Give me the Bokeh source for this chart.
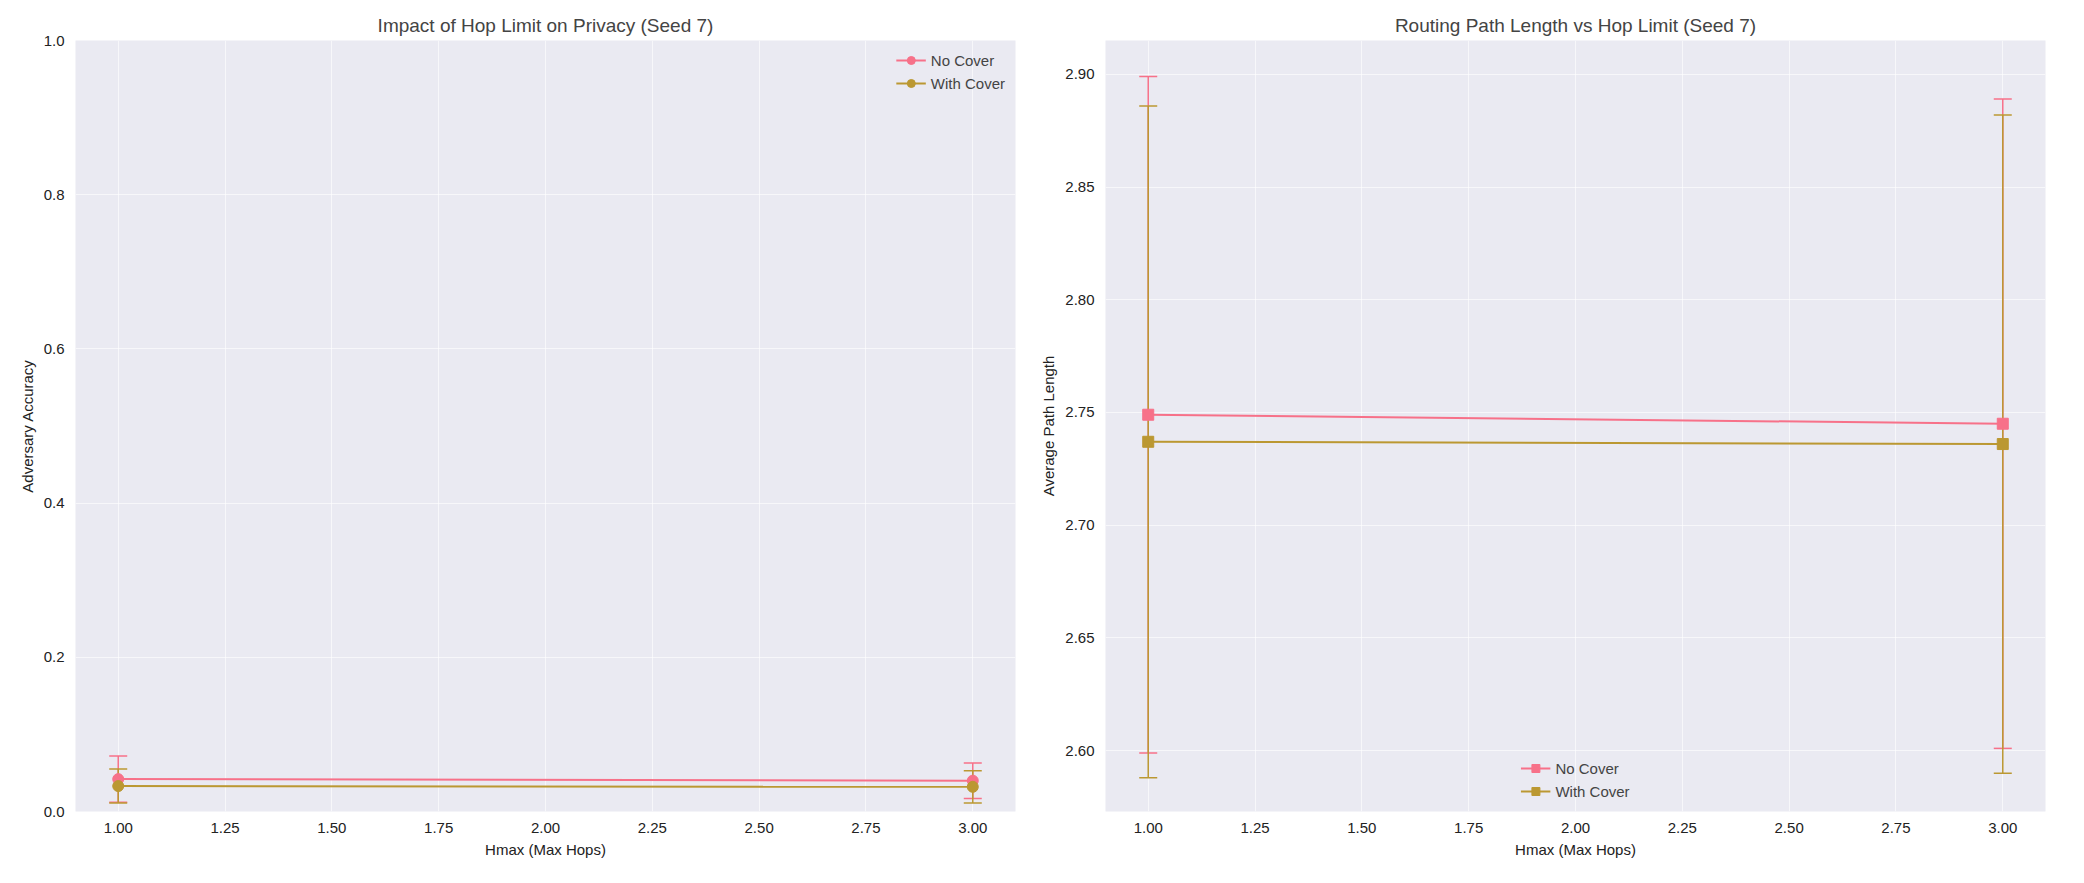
from bokeh.plotting import figure
from bokeh.layouts import row
from bokeh.models import (Whisker, ColumnDataSource, Range1d, FixedTicker, TeeHead,
                          PrintfTickFormatter)
from bokeh.embed import file_html
from bokeh.resources import INLINE

hmax = [1.0, 3.0]
acc_no_cover = [0.042, 0.040]
acc_no_cover_err = [0.030, 0.023]
acc_cover = [0.033, 0.032]
acc_cover_err = [0.022, 0.021]
len_no_cover = [2.749, 2.745]
len_no_cover_err = [0.150, 0.144]
len_cover = [2.737, 2.736]
len_cover_err = [0.149, 0.146]

PINK = "#f77189"
GOLD = "#bb9832"
FONT = "Liberation Sans"


def make_fig(title, ylabel, yr, yticks, yfmt):
    p = figure(width=1030, height=860, title=title, output_backend="svg",
               toolbar_location=None, x_range=Range1d(0.9, 3.1), y_range=yr,
               x_axis_label="Hmax (Max Hops)", y_axis_label=ylabel,
               background_fill_color="#eaeaf2", border_fill_color="white",
               min_border_left=75, min_border_right=15, min_border_top=40)
    p.outline_line_color = None
    p.title.align = "center"
    p.title.text_font = FONT
    p.title.text_font_size = "19px"
    p.title.text_font_style = "normal"
    p.xaxis.ticker = FixedTicker(ticks=[1 + 0.25 * i for i in range(9)])
    p.xaxis.formatter = PrintfTickFormatter(format="%.2f")
    p.yaxis.ticker = FixedTicker(ticks=yticks)
    p.yaxis.formatter = PrintfTickFormatter(format=yfmt)
    for ax in [p.xaxis, p.yaxis]:
        ax.axis_line_color = None
        ax.major_tick_line_color = None
        ax.minor_tick_line_color = None
        ax.major_label_text_font = FONT
        ax.major_label_text_font_size = "15px"
        ax.major_label_text_color = "#222222"
        ax.axis_label_text_font = FONT
        ax.axis_label_text_font_size = "15px"
        ax.axis_label_text_font_style = "normal"
        ax.axis_label_text_color = "#222222"
    p.grid.grid_line_color = "white"
    p.grid.grid_line_alpha = 0.6
    p.grid.grid_line_width = 1
    return p


def add_series(p, x, y, err, color, label, marker):
    src = ColumnDataSource(dict(x=x, y=y, lo=[a - e for a, e in zip(y, err)],
                                hi=[a + e for a, e in zip(y, err)]))
    w = Whisker(source=src, base="x", upper="hi", lower="lo", line_color=color,
                line_width=1.5,
                upper_head=TeeHead(size=18, line_color=color, line_width=1.5),
                lower_head=TeeHead(size=18, line_color=color, line_width=1.5))
    p.add_layout(w)
    p.line("x", "y", source=src, color=color, line_width=2, legend_label=label)
    p.scatter("x", "y", source=src, marker=marker, size=11, color=color,
              legend_label=label)


p1 = make_fig("Impact of Hop Limit on Privacy (Seed 7)", "Adversary Accuracy",
              Range1d(0, 1), [0, 0.2, 0.4, 0.6, 0.8, 1.0], "%.1f")
add_series(p1, hmax, acc_no_cover, acc_no_cover_err, PINK, "No Cover", "circle")
add_series(p1, hmax, acc_cover, acc_cover_err, GOLD, "With Cover", "circle")
p1.legend.location = "top_right"

p2 = make_fig("Routing Path Length vs Hop Limit (Seed 7)", "Average Path Length",
              Range1d(2.573, 2.915), [2.60 + 0.05 * i for i in range(7)], "%.2f")
add_series(p2, hmax, len_no_cover, len_no_cover_err, PINK, "No Cover", "square")
add_series(p2, hmax, len_cover, len_cover_err, GOLD, "With Cover", "square")
p2.legend.location = "bottom_center"

for p in (p1, p2):
    p.legend.background_fill_alpha = 0
    p.legend.border_line_color = None
    p.legend.label_text_font = FONT
    p.legend.label_text_font_size = "15px"
    p.legend.glyph_width = 30

layout = row(p1, p2)
open("out.html", "w").write(file_html(layout, INLINE))
